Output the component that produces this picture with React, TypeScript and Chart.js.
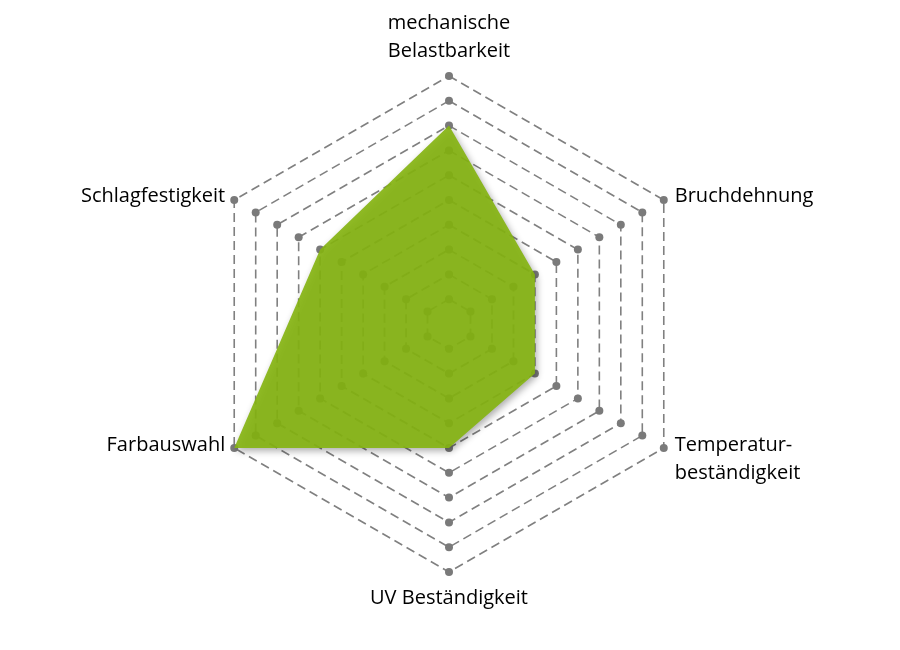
import { useEffect, useRef } from "react";
import { Chart, registerables } from "chart.js";

// axis labels (multi-line entries are split the way the picture shows them)
const categories: string[][] = [
  ["mechanische", "Belastbarkeit"],
  ["Bruchdehnung"],
  ["Temperatur-", "beständigkeit"],
  ["UV Beständigkeit"],
  ["Farbauswahl"],
  ["Schlagfestigkeit"],
];
const ratings = [8, 4, 4, 5, 10, 6];
const scaleMin = 0;
const scaleMax = 10;
const scaleStep = 1;

// soft drop shadow under the filled area; registered before Filler so it wraps the fill
const areaShadow = {
  id: "areaShadow",
  beforeDatasetDraw(chart: Chart) {
    const ctx = chart.ctx;
    ctx.save();
    ctx.shadowColor = "rgba(0, 0, 0, 0.35)";
    ctx.shadowBlur = 7;
    ctx.shadowOffsetX = 2;
    ctx.shadowOffsetY = 3;
  },
  afterDatasetDraw(chart: Chart) {
    chart.ctx.restore();
  },
};
Chart.register(areaShadow);
Chart.register(...registerables);

// grey dots on every corner of every grid ring
const gridDots = {
  id: "gridDots",
  beforeDatasetsDraw(chart: Chart) {
    const scale: any = chart.scales.r;
    const ctx = chart.ctx;
    ctx.save();
    ctx.fillStyle = "#7a7a7a";
    scale.ticks.forEach((t: any) => {
      if (t.value === scaleMin) return;
      for (let i = 0; i < categories.length; i++) {
        const p = scale.getPointPositionForValue(i, t.value);
        ctx.beginPath();
        ctx.arc(p.x, p.y, 4, 0, Math.PI * 2);
        ctx.fill();
      }
    });
    ctx.restore();
  },
};

// category labels placed next to the outer ring corners
const axisLabels = {
  id: "axisLabels",
  afterDraw(chart: Chart) {
    const scale: any = chart.scales.r;
    const ctx = chart.ctx;
    const lh = 28;
    ctx.save();
    ctx.font = '20px "Open Sans"';
    ctx.fillStyle = "#000000";
    ctx.textBaseline = "alphabetic";
    categories.forEach((lines, i) => {
      const p = scale.getPointPositionForValue(i, scaleMax);
      const above = p.y < scale.yCenter;
      if (Math.abs(p.x - scale.xCenter) < 1) {
        ctx.textAlign = "center";
        lines.forEach((ln, k) => {
          const y = above
            ? p.y - 19 - (lines.length - 1 - k) * lh
            : p.y + 32 + k * lh;
          ctx.fillText(ln, p.x, y);
        });
      } else {
        const right = p.x > scale.xCenter;
        ctx.textAlign = right ? "left" : "right";
        const x = p.x + (right ? 11 : -9);
        lines.forEach((ln, k) => {
          const y = above
            ? p.y + 2 - (lines.length - 1 - k) * lh
            : p.y + 3 + k * lh;
          ctx.fillText(ln, x, y);
        });
      }
    });
    ctx.restore();
  },
};

function RadarChart() {
  const canvasRef = useRef<HTMLCanvasElement | null>(null);

  useEffect(() => {
    if (!canvasRef.current) return;
    const chart = new Chart(canvasRef.current, {
      type: "radar",
      data: {
        labels: categories,
        datasets: [
          {
            data: ratings,
            fill: true,
            backgroundColor: "rgba(134, 180, 18, 0.92)",
            borderWidth: 0,
            pointRadius: 0,
            pointHoverRadius: 0,
          },
        ],
      },
      options: {
        animation: false,
        responsive: true,
        maintainAspectRatio: false,
        layout: { padding: { top: 76, bottom: 77, left: 0, right: 2 } },
        plugins: {
          legend: { display: false },
          tooltip: { enabled: false },
        },
        elements: { line: { tension: 0 } },
        scales: {
          r: {
            min: scaleMin,
            max: scaleMax,
            ticks: { display: false, stepSize: scaleStep },
            angleLines: { display: false },
            pointLabels: { display: false },
            grid: { color: "#808080", lineWidth: 1.6, circular: false },
            border: { dash: [9, 5] },
          },
        },
      },
      plugins: [gridDots, axisLabels],
    } as any);
    return () => chart.destroy();
  }, []);

  return (
    <div style={{ position: "fixed", left: 0, top: 0, width: 900, height: 650, background: "#fff" }}>
      <canvas ref={canvasRef}></canvas>
    </div>
  );
}

export default function App() {
  return <RadarChart />;
}
